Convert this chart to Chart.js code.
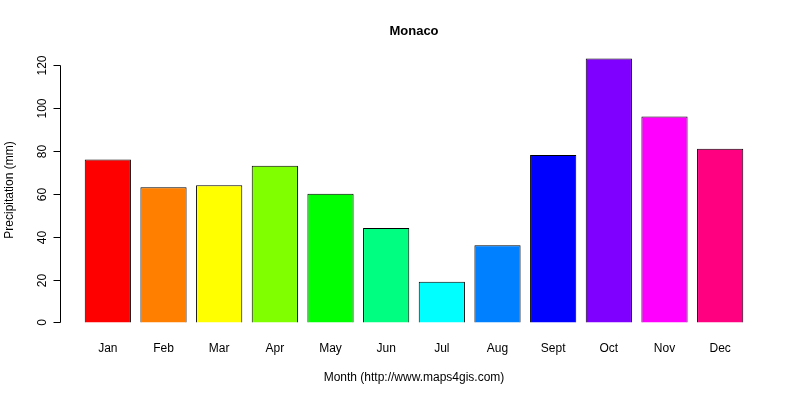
<!DOCTYPE html>
<html>
<head>
<script src="https://cdn.jsdelivr.net/npm/chart.js@4"></script>
<style>body{margin:0;background:#fff}#wrap{width:800px;height:400px}</style>
</head>
<body>
<div id="wrap"><canvas id="rain"></canvas></div>
<script>
var months = ['Jan','Feb','Mar','Apr','May','Jun','Jul','Aug','Sept','Oct','Nov','Dec'];
var precip = [76, 63, 64, 73, 60, 44, 19, 36, 78, 123, 96, 81];
var barColors = ['#FF0000','#FF8000','#FFFF00','#80FF00','#00FF00','#00FF80','#00FFFF','#0080FF','#0000FF','#8000FF','#FF00FF','#FF0080'];
var yTicks = [0, 20, 40, 60, 80, 100, 120];

var font = '12px "Liberation Sans", Arial, sans-serif';

var rAxes = {
    id: 'rAxes',
    afterDraw: function (chart) {
        var c = chart.ctx, y = chart.scales.y, x = chart.scales.x;
        c.save();
        c.strokeStyle = '#000';
        c.fillStyle = '#000';
        c.lineWidth = 1;
        var ax = 60.5;
        c.beginPath();
        c.moveTo(ax, Math.round(y.getPixelForValue(0)) + 0.5);
        c.lineTo(ax, Math.round(y.getPixelForValue(120)) + 0.5);
        c.stroke();
        c.font = font;
        c.textAlign = 'center';
        c.textBaseline = 'bottom';
        yTicks.forEach(function (t) {
            var py = Math.round(y.getPixelForValue(t)) + 0.5;
            c.beginPath();
            c.moveTo(ax, py);
            c.lineTo(ax - 7, py);
            c.stroke();
            c.save();
            c.translate(ax - 12, py);
            c.rotate(-Math.PI / 2);
            c.fillText(String(t), 0, 0);
            c.restore();
        });
        c.textBaseline = 'middle';
        months.forEach(function (m, i) {
            c.fillText(m, x.getPixelForValue(i), 349);
        });
        c.fillText('Month (http://www.maps4gis.com)', 414, 378);
        c.save();
        c.translate(10, 190);
        c.rotate(-Math.PI / 2);
        c.fillText('Precipitation (mm)', 0, 0);
        c.restore();
        c.font = 'bold 13px "Liberation Sans", Arial, sans-serif';
        c.fillText('Monaco', 414, 31);
        c.restore();
    }
};

new Chart(document.getElementById('rain'), {
    type: 'bar',
    data: {
        labels: months,
        datasets: [{
            data: precip,
            backgroundColor: barColors,
            borderColor: '#000',
            borderWidth: 1,
            barPercentage: 0.83,
            categoryPercentage: 1
        }]
    },
    options: {
        responsive: true,
        maintainAspectRatio: false,
        animation: false,
        layout: { padding: { left: 80, right: 52, top: 48, bottom: 67 } },
        plugins: { legend: { display: false }, tooltip: { enabled: false } },
        scales: {
            x: { display: false },
            y: { display: false, min: -4.9, max: 127.9 }
        }
    },
    plugins: [rAxes]
});
</script>
</body>
</html>
